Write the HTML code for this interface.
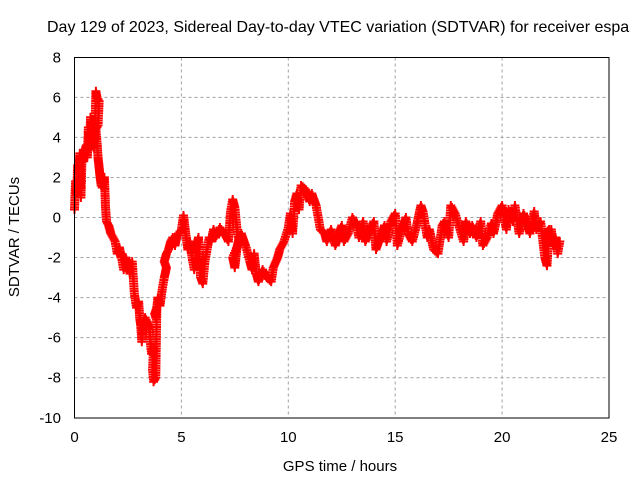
<!DOCTYPE html>
<html><head><meta charset="utf-8"><style>
body{margin:0;background:#fff;}
svg{display:block;font-family:"Liberation Sans",sans-serif;}
</style></head><body>
<svg id="chart" width="640" height="480" xmlns="http://www.w3.org/2000/svg">
<rect width="640" height="480" fill="#fff"/>
<text x="47" y="32" font-size="16" text-anchor="start">Day 129 of 2023, Sidereal Day-to-day VTEC variation (SDTVAR) for receiver espa</text>
<g id="grid"></g>
<g id="ticks"></g>
<g id="pts"></g>
<rect x="74.5" y="57.5" width="534.5" height="360.5" fill="none" stroke="#000" stroke-width="1"/>
<text x="340" y="471" font-size="15" text-anchor="middle">GPS time / hours</text>
<text transform="translate(19,237) rotate(-90)" font-size="15" text-anchor="middle">SDTVAR / TECUs</text>
</svg>
<script>
const xTicks=[0,5,10,15,20,25];
const yTicks=[8,6,4,2,0,-2,-4,-6,-8,-10];
const times=[0.0,0.05,0.1,0.15,0.2,0.25,0.3,0.35,0.4,0.45,0.5,0.55,0.6,0.65,0.7,0.75,0.8,0.85,0.9,0.95,1.0,1.05,1.1,1.15,1.1,1.0,1.05,1.1,1.15,1.2,1.25,1.3,1.4,1.45,1.5,1.6,1.7,1.8,1.9,2.0,2.1,2.2,2.3,2.4,2.5,2.6,2.7,2.8,2.9,3.0,3.05,3.1,3.15,3.2,3.3,3.4,3.5,3.6,3.7,3.65,3.7,3.8,3.85,3.75,3.8,3.9,4.0,4.1,4.2,4.3,4.2,4.3,4.4,4.5,4.6,4.7,4.8,5.0,5.1,5.2,5.3,5.4,5.5,5.6,5.7,5.8,5.9,6.0,6.1,6.2,6.3,6.4,6.5,6.6,6.8,7.0,7.2,7.3,7.4,7.5,7.6,7.7,7.4,7.5,7.6,7.7,7.8,8.0,8.2,8.3,8.4,8.5,8.6,8.8,9.0,9.2,9.3,9.5,9.6,9.8,10.0,10.1,10.2,10.3,10.4,10.5,10.6,10.8,11.0,11.1,11.3,11.4,11.5,11.7,11.8,12.0,12.2,12.3,12.5,12.6,12.8,13.0,13.2,13.3,13.5,13.6,13.8,14.0,14.1,14.3,14.5,14.6,14.8,15.0,15.1,15.3,15.5,15.6,15.8,16.0,16.2,16.3,16.5,16.6,16.8,17.0,17.2,17.3,17.5,17.6,17.8,18.0,18.2,18.3,18.5,18.6,18.8,19.0,19.1,19.3,19.5,19.6,19.8,20.0,20.2,20.3,20.5,20.6,20.8,21.0,21.2,21.3,21.5,21.6,21.8,22.0,22.1,22.2,22.0,22.2,22.3,22.4,22.5,22.6,22.7,22.8];
const values=[0.4,1.8,1.2,2.6,2.2,3.2,1.0,3.0,2.8,3.3,3.4,3.6,3.0,4.5,3.4,5.0,4.2,3.6,3.5,4.0,6.3,6.0,5.9,5.8,4.6,4.4,3.8,3.0,2.5,2.0,1.6,1.5,2.0,0.5,-0.2,-0.4,-0.8,-1.0,-1.2,-1.8,-1.5,-2.0,-2.6,-2.0,-2.4,-2.8,-2.2,-3.8,-4.5,-4.2,-5.0,-5.4,-6.2,-5.3,-5.0,-5.2,-5.6,-6.8,-6.5,-7.6,-8.2,-8.0,-4.5,-4.8,-5.0,-4.0,-4.4,-3.6,-3.0,-2.5,-2.2,-1.8,-1.6,-1.2,-1.0,-1.4,-0.9,-0.6,0.1,-0.8,-1.6,-1.2,-2.0,-2.6,-1.4,-1.0,-3.0,-3.3,-2.2,-1.6,-1.0,-1.2,-0.6,-1.0,-0.5,-0.8,-1.2,0.3,0.9,0.5,-0.6,-1.2,-2.0,-2.5,-1.5,-1.0,-0.8,-1.4,-2.2,-2.6,-1.8,-2.8,-3.2,-2.6,-3.0,-3.2,-2.5,-2.0,-1.6,-1.2,-0.5,0.2,-0.8,0.8,1.2,0.4,1.6,1.4,0.8,1.2,0.6,0.0,-0.6,-0.8,-1.2,-0.6,-1.4,-1.0,-0.4,-1.2,-0.8,0.0,-0.4,-1.0,-0.2,-1.2,-0.6,-0.2,-1.6,-1.0,-0.4,-1.2,-0.2,0.2,-1.4,-0.6,0.0,-0.8,-1.2,-0.4,0.6,0.3,-1.0,-0.6,-1.6,-1.8,-0.4,-0.2,-1.0,0.6,0.2,-0.5,-1.2,-0.2,-0.8,-0.4,-1.0,-0.2,-1.4,-1.0,-0.3,-0.8,0.2,0.6,-0.6,0.4,-0.2,0.6,-0.8,0.2,-0.4,-0.8,0.3,-0.6,-0.2,-2.0,-2.4,-0.6,-0.8,-1.2,-0.6,-1.4,-1.0,-1.8,-1.2];
const X=t=>74.5+t*21.38, Y=v=>217.5-v*20.03;
const NS="http://www.w3.org/2000/svg";
const grid=document.getElementById('grid'), ticks=document.getElementById('ticks'), pts=document.getElementById('pts');
function mk(tag,at,parent){const e=document.createElementNS(NS,tag);for(const k in at)e.setAttribute(k,at[k]);parent.appendChild(e);return e;}
xTicks.forEach(t=>{
 const x=X(t);
 if(t>0&&t<25){const g=mk('line',{x1:x,y1:57.5,x2:x,y2:418,stroke:'#a0a0a0','stroke-dasharray':'3,3'},grid);
 
 }
 const tk=mk('text',{x:x,y:442,'font-size':15,'text-anchor':'middle'},ticks);tk.textContent=t;
 
 
});
yTicks.forEach(v=>{
 const y=Y(v);
 if(v>-10&&v<8){const g=mk('line',{x1:74.5,y1:y,x2:609,y2:y,stroke:'#a0a0a0','stroke-dasharray':'3,3'},grid);
 
 }
 const tk=mk('text',{x:61,y:y+5,'font-size':15,'text-anchor':'end'},ticks);tk.textContent=v;
 
 
});
let d='';
function plus(x,y){d+=`M${(x-4.5).toFixed(1)} ${y.toFixed(1)}h9M${x.toFixed(1)} ${(y-4.5).toFixed(1)}v9`;}
for(let i=0;i<times.length;i++){
 const x1=X(times[i]),y1=Y(values[i]);
 plus(x1,y1);
 if(i+1<times.length){
  const x2=X(times[i+1]),y2=Y(values[i+1]);
  const n=Math.ceil(Math.hypot(x2-x1,y2-y1)/2.5);
  for(let k=1;k<n;k++)plus(x1+(x2-x1)*k/n,y1+(y2-y1)*k/n);
 }
}
const p=mk('path',{d:d,stroke:'#ff0000','stroke-width':2,fill:'none'},pts);


</script>
</body></html>
